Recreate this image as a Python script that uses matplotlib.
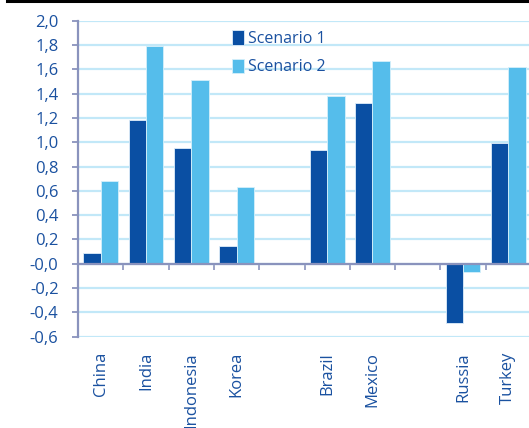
import matplotlib
matplotlib.use("Agg")
import matplotlib.pyplot as plt
from matplotlib.lines import Line2D
import numpy as np

# data
countries = ["China", "India", "Indonesia", "Korea", "", "Brazil", "Mexico", "", "Russia", "Turkey"]
scenario1 = [0.09, 1.18, 0.95, 0.15, 0, 0.94, 1.32, 0, -0.49, 0.99]
scenario2 = [0.68, 1.79, 1.51, 0.63, 0, 1.38, 1.67, 0, -0.07, 1.62]
series_names = ["Scenario 1", "Scenario 2"]
yticks = np.round(np.arange(-0.6, 2.01, 0.2), 1)
ytick_labels = ["-0,6", "-0,4", "-0,2", "-0,0", "0,2", "0,4", "0,6", "0,8",
                "1,0", "1,2", "1,4", "1,6", "1,8", "2,0"]

dark = "#0a4fa3"
light = "#55bdeb"
txt = "#1a51a0"
axcol = "#8a93bd"
gridcol = "#c2e8f8"

plt.rcParams["font.family"] = ["Open Sans", "DejaVu Sans"]

fig = plt.figure(figsize=(5.29, 4.28), dpi=100)
ax = fig.add_axes([78 / 529, (428 - 336.7) / 428, 453 / 529, 316 / 428])

x = np.arange(len(countries))
w = 0.385
mask = np.array([c != "" for c in countries])
ax.bar(x[mask] - w / 2, np.array(scenario1)[mask], w, color=dark, edgecolor="#dfeefa",
       linewidth=0.6, label=series_names[0], zorder=3)
ax.bar(x[mask] + w / 2, np.array(scenario2)[mask], w, color=light, edgecolor="#d5f0fb",
       linewidth=0.6, label=series_names[1], zorder=3)

ax.set_xlim(-0.5, len(countries) - 0.5)
ax.set_ylim(-0.6, 2.0)
ax.set_yticks(yticks)
ax.set_yticklabels(ytick_labels)
ax.yaxis.grid(True, color=gridcol, linewidth=1.6, zorder=0)
ax.set_axisbelow(True)

for s in ["top", "right", "bottom"]:
    ax.spines[s].set_visible(False)
ax.spines["left"].set_color(axcol)
ax.spines["left"].set_linewidth(1.6)
ax.tick_params(axis="y", colors=axcol, labelcolor=txt, labelsize=12, length=4,
               width=1.3, pad=10)

ax.set_xticks(x)
ax.set_xticklabels(countries, rotation=90, va="top", ha="center")
ax.tick_params(axis="x", length=0, pad=11, labelcolor=txt, labelsize=12)

# zero line with category separator ticks
ax.axhline(0, color=axcol, linewidth=1.6, zorder=4)
sec = ax.secondary_xaxis(0.6 / 2.6)
sec.spines["bottom"].set_visible(False)
sec.set_xticks(np.arange(0.5, len(countries) - 0.5, 1))
sec.set_xticklabels([])
sec.tick_params(axis="x", colors=axcol, length=4, width=1.2, direction="out")

leg = ax.legend(loc="upper left", bbox_to_anchor=(0.325, 0.99), frameon=False,
                fontsize=11.5, handlelength=0.75, handleheight=1.0, handletextpad=0.25,
                labelspacing=0.75, borderaxespad=0)
for t in leg.get_texts():
    t.set_color(txt)

fig.add_artist(Line2D([7 / 529, 1], [1 - 1 / 428, 1 - 1 / 428], color="black",
                      linewidth=2.2, transform=fig.transFigure))

fig.savefig("out.png", dpi=100)
